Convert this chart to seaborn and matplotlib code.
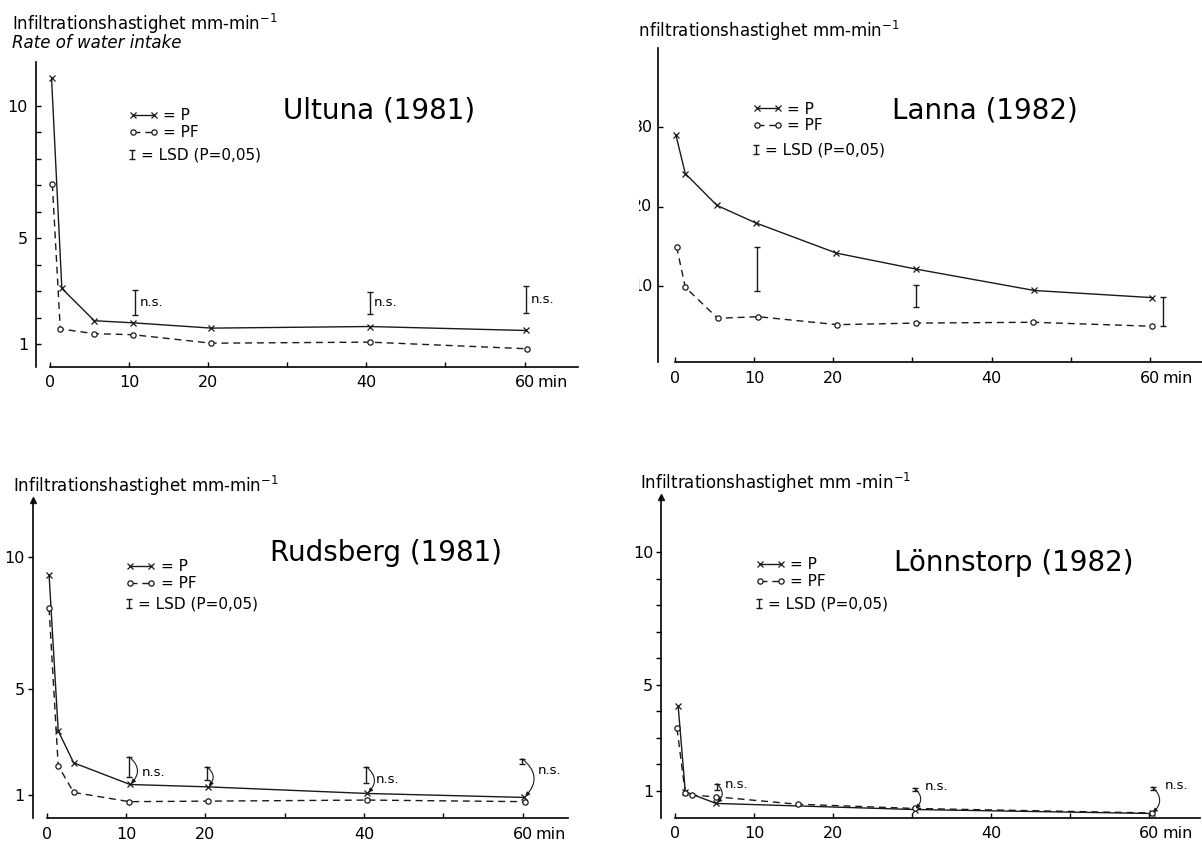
import matplotlib
matplotlib.use("Agg")
import matplotlib.pyplot as plt
import seaborn as sns
import numpy as np
from matplotlib.lines import Line2D
from matplotlib.container import ErrorbarContainer
from matplotlib.legend_handler import HandlerErrorbar
from matplotlib.transforms import Bbox, TransformedBbox

# ---------------- data ----------------
# Ultuna (1981)
ult_t_p = [0.2, 1.5, 5.6, 10.5, 20.4, 40.4, 60.2]
ult_p = [11.05, 3.10, 1.88, 1.80, 1.60, 1.66, 1.51]
ult_t_pf = [0.3, 1.3, 5.6, 10.5, 20.4, 40.4, 60.3]
ult_pf = [7.04, 1.57, 1.39, 1.35, 1.03, 1.07, 0.82]
ult_lsd_t = [10.8, 40.4, 60.2]
ult_lsd_lo = [2.10, 2.14, 2.17]
ult_lsd_hi = [3.05, 2.98, 3.20]
ult_ns = [True, True, True]
ult_arrow_to = [None, None, None]

# Lanna (1982)
lan_t_p = [0.1, 1.3, 5.3, 10.2, 20.4, 30.4, 45.4, 60.3]
lan_p = [29.1, 24.2, 20.2, 18.0, 14.2, 12.2, 9.5, 8.6]
lan_t_pf = [0.2, 1.3, 5.4, 10.5, 20.5, 30.5, 45.3, 60.3]
lan_pf = [15.0, 9.9, 6.0, 6.2, 5.2, 5.4, 5.5, 5.0]
lan_lsd_t = [10.4, 30.4, 61.7]
lan_lsd_lo = [9.4, 7.4, 5.0]
lan_lsd_hi = [15.0, 10.2, 8.7]
lan_ns = [False, False, False]
lan_arrow_to = [None, None, None]

# Rudsberg (1981)
rud_t_p = [0.3, 1.45, 3.4, 10.5, 20.3, 40.4, 60.2]
rud_p = [9.33, 3.43, 2.22, 1.40, 1.31, 1.06, 0.91]
rud_t_pf = [0.3, 1.45, 3.4, 10.4, 20.3, 40.4, 60.3]
rud_pf = [8.07, 2.11, 1.10, 0.75, 0.77, 0.81, 0.75]
rud_lsd_t = [10.4, 20.2, 40.3, 59.9]
rud_lsd_lo = [1.69, 1.57, 1.44, 2.19]
rud_lsd_hi = [2.45, 2.07, 2.07, 2.38]
rud_ns = [True, False, True, True]
rud_arrow_to = [3, 4, 5, 6]

# Lönnstorp (1982)
lon_t_p = [0.4, 1.3, 5.2, 30.3, 60.3]
lon_p = [4.19, 0.96, 0.52, 0.29, 0.14]
lon_t_pf = [0.25, 1.3, 2.2, 5.2, 15.5, 30.3, 60.3]
lon_pf = [3.35, 0.90, 0.83, 0.77, 0.49, 0.33, 0.16]
lon_lsd_t = [5.3, 30.3, 60.4]
lon_lsd_lo = [1.02, 1.00, 1.02]
lon_lsd_hi = [1.27, 1.10, 1.14]
lon_ns = [True, True, True]
lon_arrow_to = [2, 3, 4]

x_ticks = [0, 10, 20, 30, 40, 50, 60]
x_ticklabels = ["0", "10", "20", "", "40", "", "60"]

# ---------------- style ----------------
sns.set_theme(style="ticks")
plt.rcParams["font.family"] = ["DejaVu Sans"]
plt.rcParams["axes.linewidth"] = 1.2
plt.rcParams["axes.edgecolor"] = "black"
plt.rcParams["xtick.color"] = "black"
plt.rcParams["ytick.color"] = "black"
plt.rcParams["xtick.labelcolor"] = "black"
plt.rcParams["ytick.labelcolor"] = "black"
plt.rcParams["text.color"] = "black"
plt.rcParams["axes.labelcolor"] = "black"
plt.rcParams["legend.labelcolor"] = "black"

W, H = 1202, 847
fig = plt.figure(figsize=(W / 100, H / 100), dpi=100)
fig.patch.set_facecolor("white")


def px_box(l, r, t, b):
    return [l / W, 1 - b / H, (r - l) / W, (b - t) / H]


def fig_xy(x, y):
    return x / W, 1 - y / H


LW = 1.0
P_KW = dict(color="k", linewidth=LW, marker="x", markersize=4.5,
            markeredgewidth=0.9, markeredgecolor="k")
PF_KW = dict(color="k", linewidth=LW, linestyle=(0, (5, 3.5)), marker="o",
             markersize=3.8, markerfacecolor="white", markeredgecolor="k",
             markeredgewidth=0.9)

panels = [
    dict(name="Ultuna (1981)", box=(35.5, 578, 62, 367), xlim=(-1.83, 66.75),
         ylim=(0.13, 11.66), yticks=list(range(1, 11)), ylab={1: "1", 5: "5", 10: "10"},
         ydir="in", arrow=False,
         labels=[("Infiltrationshastighet mm-min$^{-1}$", 12, 30, "normal"),
                 ("Rate of water intake", 12, 48, "italic")],
         lab_x=12, title_xy=(283, 111), leg_x=128, leg_y=(124, 155),
         data=(ult_t_p, ult_p, ult_t_pf, ult_pf, ult_lsd_t, ult_lsd_lo, ult_lsd_hi, ult_ns, ult_arrow_to),
         ns_dx=[3, 3, 3], ns_dy=[0, 0, 0], clip_x=None),
    dict(name="Lanna (1982)", box=(658, 1202, 48, 362.5), xlim=(-2.15, 66.6),
         ylim=(0.44, 40.0), yticks=[10, 20, 30], ylab={10: "10", 20: "20", 30: "30"},
         ydir="in", arrow=False,
         labels=[("Infiltrationshastighet mm-min$^{-1}$", 12, 37, "normal")],
         lab_x=633.5, title_xy=(892, 110), leg_x=752, leg_y=(117.5, 150),
         data=(lan_t_p, lan_p, lan_t_pf, lan_pf, lan_lsd_t, lan_lsd_lo, lan_lsd_hi, lan_ns, lan_arrow_to),
         ns_dx=[0, 0, 0], ns_dy=[0, 0, 0], clip_x=639.0),
    dict(name="Rudsberg (1981)", box=(32.5, 568, 500, 818.3), xlim=(-1.79, 65.7),
         ylim=(0.12, 12.17), yticks=[1, 5, 10], ylab={1: "1", 5: "5", 10: "10"},
         ydir="out", arrow=True,
         labels=[("Infiltrationshastighet mm-min$^{-1}$", 12, 492, "normal")],
         lab_x=13, title_xy=(270, 553), leg_x=125.5, leg_y=(575, 604),
         data=(rud_t_p, rud_p, rud_t_pf, rud_pf, rud_lsd_t, rud_lsd_lo, rud_lsd_hi, rud_ns, rud_arrow_to),
         ns_dx=[9, 0, 7, 11], ns_dy=[-4, 0, -3, -7], clip_x=None),
    dict(name="Lönnstorp (1982)", box=(660.7, 1200, 496.7, 818), xlim=(-1.81, 66.4),
         ylim=(-0.03, 12.1), yticks=list(range(1, 11)), ylab={1: "1", 5: "5", 10: "10"},
         ydir="out", arrow=True,
         labels=[("Infiltrationshastighet mm -min$^{-1}$", 12, 489, "normal")],
         lab_x=640, title_xy=(894, 563), leg_x=755, leg_y=(573, 604),
         data=(lon_t_p, lon_p, lon_t_pf, lon_pf, lon_lsd_t, lon_lsd_lo, lon_lsd_hi, lon_ns, lon_arrow_to),
         ns_dx=[6, 7, 9], ns_dy=[2, 2, 2], clip_x=None),
]

for cfg in panels:
    tP, P, tPF, PF, tL, lo, hi, ns, arr = cfg["data"]
    ax = fig.add_axes(px_box(*cfg["box"]))
    ax.set_facecolor("white")

    sns.lineplot(x=tP, y=P, ax=ax, sort=False, estimator=None, legend=False, **P_KW)
    sns.lineplot(x=tPF, y=PF, ax=ax, sort=False, estimator=None, legend=False, **PF_KW)

    lo_a, hi_a = np.asarray(lo), np.asarray(hi)
    center = (lo_a + hi_a) / 2
    half = (hi_a - lo_a) / 2
    eb = ax.errorbar(tL, center, yerr=half, fmt="none", ecolor="k",
                     elinewidth=1.0, capsize=2.5, capthick=1.0)

    for i in range(len(tL)):
        if ns[i]:
            ax.annotate("n.s.", xy=(tL[i], center[i]),
                        xytext=(cfg["ns_dx"][i], cfg["ns_dy"][i]),
                        textcoords="offset points", ha="left", va="center",
                        fontsize=9.5, color="black")
        if arr[i] is not None:
            j = arr[i]
            ax.annotate("", xy=(tP[j], P[j]), xytext=(tL[i], hi[i]),
                        arrowprops=dict(arrowstyle="-|>", color="k", lw=0.8,
                                        mutation_scale=6, shrinkA=0, shrinkB=1,
                                        connectionstyle="arc3,rad=-0.55"))

    ax.set_xlim(*cfg["xlim"])
    ax.set_ylim(*cfg["ylim"])
    ax.set_xlabel("")
    ax.set_ylabel("")
    sns.despine(ax=ax)
    ax.spines["bottom"].set_bounds(0, cfg["xlim"][1])

    ax.set_xticks(x_ticks)
    ax.set_xticklabels(x_ticklabels)
    ax.tick_params(axis="x", direction="in", length=3.6, width=1.0, pad=6,
                   labelsize=11.5, colors="black")
    ax.annotate("min", xy=(60, 0), xycoords=ax.get_xaxis_transform(),
                xytext=(9.5, -6), textcoords="offset points",
                ha="left", va="top", fontsize=11.5, color="black")

    ax.set_yticks(cfg["yticks"])
    ypad = 5.4 if cfg["ydir"] == "in" else 1.8
    ax.tick_params(axis="y", direction=cfg["ydir"], length=3.6, width=1.0,
                   pad=ypad, labelsize=11.5, colors="black")
    if cfg["clip_x"] is None:
        ax.set_yticklabels([cfg["ylab"].get(v, "") for v in cfg["yticks"]])
    else:
        ax.set_yticklabels([])
        clipbox = TransformedBbox(Bbox([[cfg["clip_x"] / W, 0], [1, 1]]), fig.transFigure)
        for v in cfg["yticks"]:
            t = ax.annotate(cfg["ylab"][v], xy=(0, v), xycoords=ax.get_yaxis_transform(),
                            xytext=(-ypad + 1.5, 0), textcoords="offset points",
                            ha="right", va="center", fontsize=11.5, color="black",
                            annotation_clip=False)
            t.set_clip_box(clipbox)
            t.set_clip_on(True)

    if cfg["arrow"]:
        ax.plot([0], [1], marker="^", color="k", markersize=4.5,
                transform=ax.transAxes, clip_on=False)

    # axis label text above panel
    for txt, fs, yb, sty in cfg["labels"]:
        tt = fig.text(*fig_xy(cfg["lab_x"], yb), txt, ha="left", va="baseline",
                      fontsize=fs, fontstyle=sty, color="black")
        if cfg["clip_x"] is not None:
            tt.set_clip_box(TransformedBbox(Bbox([[cfg["clip_x"] / W, 0], [1, 1]]),
                                            fig.transFigure))
            tt.set_clip_on(True)

    # panel title
    fig.text(*fig_xy(*cfg["title_xy"]), cfg["name"], ha="left", va="center",
             fontsize=20, color="black")

    # legends
    h_p = Line2D([], [], **P_KW)
    h_pf = Line2D([], [], **PF_KW)
    leg1 = ax.legend([h_p, h_pf], ["= P", "= PF"], loc="center left",
                     bbox_to_anchor=fig_xy(cfg["leg_x"], cfg["leg_y"][0]),
                     bbox_transform=fig.transFigure, frameon=False, numpoints=2,
                     handlelength=2.0, handletextpad=0.3, labelspacing=0.12,
                     borderpad=0, borderaxespad=0, fontsize=11, labelcolor="black")
    ax.add_artist(leg1)
    ax.legend([eb], ["= LSD (P=0,05)"], loc="center left",
              bbox_to_anchor=fig_xy(cfg["leg_x"], cfg["leg_y"][1]),
              bbox_transform=fig.transFigure, frameon=False,
              handlelength=0.5, handletextpad=0.35, borderpad=0, borderaxespad=0,
              fontsize=11, labelcolor="black",
              handler_map={ErrorbarContainer: HandlerErrorbar(numpoints=1, xerr_size=0.3)})

fig.savefig("out.png", dpi=100, facecolor="white")
